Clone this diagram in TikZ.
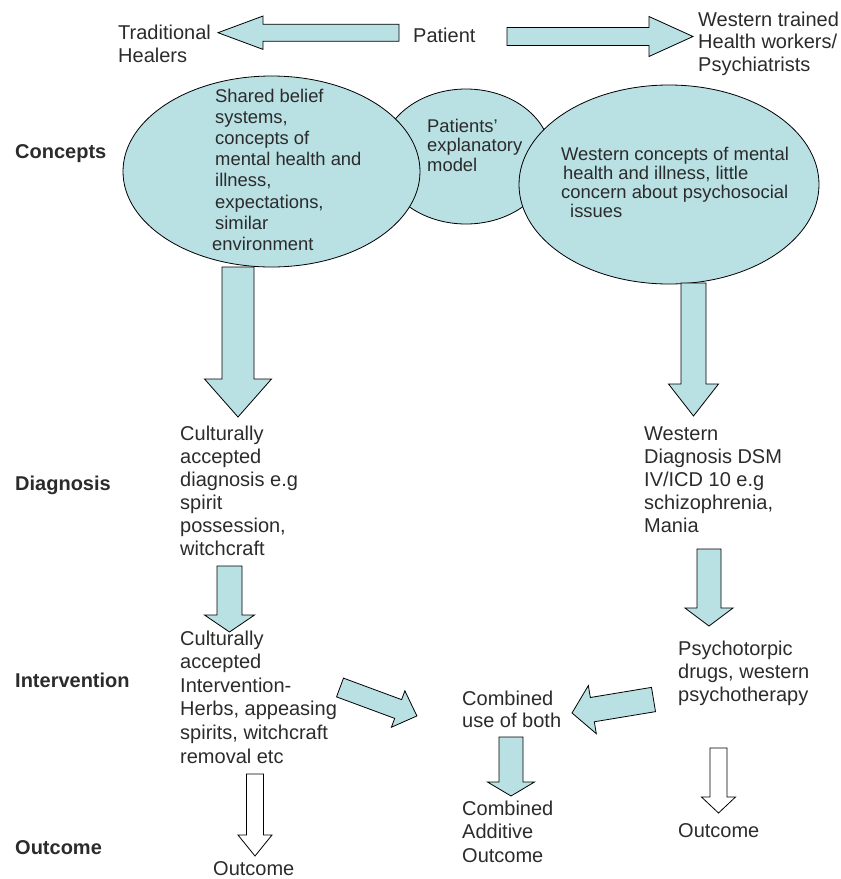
\documentclass[tikz,border=0pt]{standalone}
\usepackage{fontspec}
\setmainfont{Liberation Sans}
\usetikzlibrary{shapes.geometric}
\definecolor{tealfill}{HTML}{B9E0E3}
\definecolor{txt}{HTML}{2B2B2B}
\newcommand\mlines[2]{\vtop{\baselineskip=#1\lineskiplimit=-20pt\relax #2}}
\newcommand\blockarr[8][]{%
  \begin{scope}[shift={(#2,#3)},rotate=#4]
    \draw[#1] (0,#6) -- ({#5-#8},#6) -- ({#5-#8},#7) -- (#5,0) -- ({#5-#8},-#7) -- ({#5-#8},-#6) -- (0,-#6) -- cycle;
  \end{scope}}
\begin{document}
\begin{tikzpicture}[x=1pt,y=-1pt,
  txtnode/.style={anchor=base west,inner sep=0pt,text=txt,font=\fontsize{20}{23}\selectfont},
  elltxt/.style={anchor=base west,inner sep=0pt,text=txt,font=\fontsize{18.4}{21}\selectfont},
  lab/.style={anchor=base west,inner sep=0pt,text=txt,font=\fontsize{20}{23}\selectfont\bfseries},
  blob/.style={ellipse,draw=black,line width=0.8pt,fill=tealfill,inner sep=0pt},
  tealarr/.style={draw=black,line width=0.8pt,fill=tealfill,line join=miter},
  whitearr/.style={draw=black,line width=0.8pt,fill=white,line join=miter}]
\useasboundingbox (0,0) rectangle (841,879);

% top row
\node[txtnode] (trad) at (118,39) {\mlines{23pt}{\hbox{Traditional}\hbox{Healers}}};
\node[txtnode] (patient) at (413,42) {Patient};
\node[txtnode] (west) at (698,26) {\mlines{22.5pt}{\hbox{Western trained}\hbox{Health workers/}\hbox{Psychiatrists}}};
\blockarr[tealarr]{399}{32.7}{180}{181}{8.5}{16.7}{45}
\blockarr[tealarr]{507}{36.5}{0}{186}{9}{20}{44}

% row labels
\node[lab] (lconc) at (15,158) {Concepts};
\node[lab] (ldiag) at (15,490) {Diagnosis};
\node[lab] (linter) at (15,687) {Intervention};
\node[lab] (lout) at (15,854) {Outcome};

% ellipses
\node[blob,minimum width=170pt,minimum height=135pt] (emid) at (466,156.5) {};
\node[blob,minimum width=297pt,minimum height=191pt] (eleft) at (271.5,171.5) {};
\node[blob,minimum width=300pt,minimum height=199pt] (eright) at (669,184.5) {};

\node[elltxt] (tleft) at (215,102) {\mlines{21.2pt}{\hbox{Shared belief}\hbox{systems,}\hbox{concepts of}\hbox{mental health and}\hbox{illness,}\hbox{expectations,}\hbox{similar}\hbox{\hspace*{-3pt}environment}}};
\node[elltxt] (tmid) at (427,132) {\mlines{19.5pt}{\hbox{Patients’}\hbox{explanatory}\hbox{model}}};
\node[elltxt] (tright) at (561,160) {\mlines{19.3pt}{\hbox{Western concepts of mental}\hbox{\hspace*{2pt}health and illness, little}\hbox{concern about psychosocial}\hbox{\hspace*{9pt}issues}}};

% left column
\blockarr[tealarr]{238}{267}{-90}{150}{16}{33.5}{38}
\node[txtnode] (tdiag) at (180,440) {\mlines{23pt}{\hbox{Culturally}\hbox{accepted}\hbox{diagnosis e.g}\hbox{spirit}\hbox{possession,}\hbox{witchcraft}}};
\blockarr[tealarr]{229.5}{566}{-90}{66}{12.5}{25}{17}
\node[txtnode] (tint) at (180,645) {\mlines{23.6pt}{\hbox{Culturally}\hbox{accepted}\hbox{Intervention-}\hbox{Herbs, appeasing}\hbox{spirits, witchcraft}\hbox{removal etc}}};
\blockarr[whitearr]{255}{774}{-90}{82}{8.5}{17}{21}
\node[txtnode] (tout1) at (213,875) {Outcome};

% right column
\blockarr[tealarr]{693.5}{283}{-90}{133}{12.5}{25}{32}
\node[txtnode] (twdiag) at (644,440) {\mlines{23pt}{\hbox{Western}\hbox{Diagnosis DSM}\hbox{IV/ICD 10 e.g}\hbox{schizophrenia,}\hbox{Mania}}};
\blockarr[tealarr]{709}{549}{-90}{77}{12}{24}{18}
\node[txtnode] (tpsy) at (678,655) {\mlines{23pt}{\hbox{Psychotorpic}\hbox{drugs, western}\hbox{psychotherapy}}};
\blockarr[whitearr]{718.5}{748}{-90}{65}{8.5}{17}{16}
\node[txtnode] (tout2) at (678,837) {Outcome};

% centre
\blockarr[tealarr]{340}{687.5}{-20.3}{82}{10}{19.4}{20}
\blockarr[tealarr]{653.5}{699.5}{189.4}{82.6}{12.3}{24.4}{20.6}
\node[txtnode] (tcomb) at (462,705) {\mlines{22pt}{\hbox{Combined}\hbox{use of both}}};
\blockarr[tealarr]{511}{737}{-90}{59}{12}{23.5}{14}
\node[txtnode] (tadd) at (462,815) {\mlines{23.5pt}{\hbox{Combined}\hbox{Additive}\hbox{Outcome}}};
\end{tikzpicture}
\end{document}
